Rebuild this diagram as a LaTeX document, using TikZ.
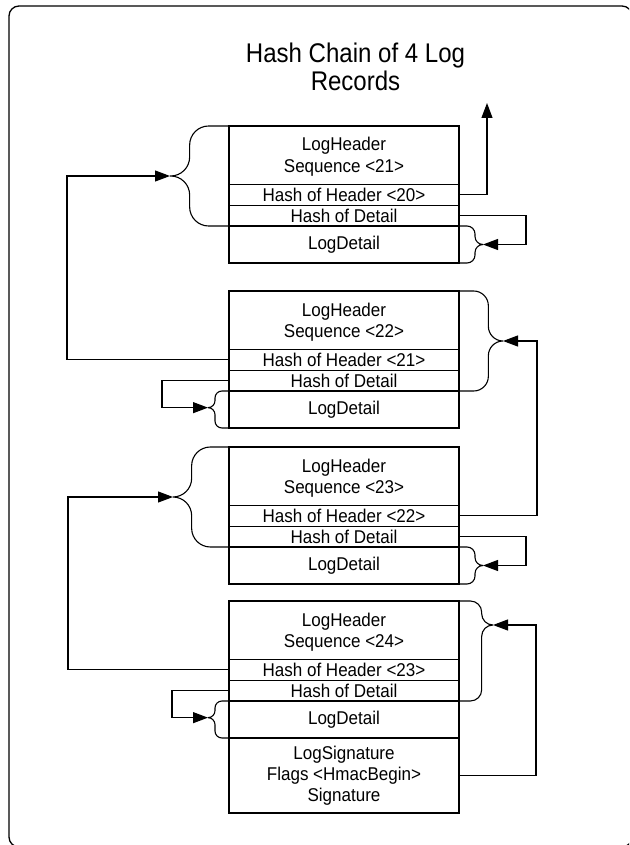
\documentclass[tikz,border=0pt]{standalone}
\usepackage{fontspec}
\setmainfont{Liberation Sans}
\newfontfamily\titlesans[FakeStretch=0.89]{Liberation Sans}
\newfontfamily\rowsans[FakeStretch=0.92]{Liberation Sans}
\usetikzlibrary{positioning,calc,arrows.meta}

\newcommand\curlybrace[4]{%
  \draw[brc,rounded corners=#4] (#1) -- ($(#1)!.667!(#1 -| #2)$) |- (#2)
    (#2) -| ($(#3)!.667!(#3 -| #2)$) -- (#3);}

\begin{document}
\begin{tikzpicture}[x=1pt,y=-1pt,
  row/.style={draw,line width=0.9pt,minimum width=230pt,inner sep=0pt,outer sep=0pt,
    align=center,anchor=north,font=\rowsans\fontsize{18.5}{21}\selectfont},
  hdrow/.style={row,minimum height=58pt,text height=38pt,text depth=4pt},
  hashrow/.style={row,minimum height=21pt},
  detrow/.style={row,minimum height=37pt},
  sigrow/.style={row,minimum height=75pt,text height=56pt,text depth=4pt},
  recbox/.style={line width=2.8pt},
  brc/.style={line width=1.1pt},
  arr/.style={line width=1.1pt,-{Triangle[length=15pt,width=11pt]}}]
  \useasboundingbox (0,0) rectangle (629,845);
  \clip (0,0) rectangle (629,845);
  \draw[line width=1.3pt,rounded corners=10pt] (9,6) rectangle (632,847);

  \node[font=\titlesans\fontsize{27}{27.5}\selectfont,align=center] (title) at (355.5,66.7)
    {Hash Chain of 4 Log\\Records};

  \node[hdrow] (hd1) at (344,126) {LogHeader\\Sequence <21>};
  \node[hashrow,below=0pt of hd1] (hh1) {Hash of Header <20>};
  \node[hashrow,below=0pt of hh1] (hx1) {Hash of Detail};
  \node[detrow,below=0pt of hx1] (d1) {LogDetail};
  \draw[recbox] (hd1.north west) rectangle (d1.south east);
  \draw[recbox] (d1.north west) -- (d1.north east);

  \node[hdrow] (hd2) at (344,291) {LogHeader\\Sequence <22>};
  \node[hashrow,below=0pt of hd2] (hh2) {Hash of Header <21>};
  \node[hashrow,below=0pt of hh2] (hx2) {Hash of Detail};
  \node[detrow,below=0pt of hx2] (d2) {LogDetail};
  \draw[recbox] (hd2.north west) rectangle (d2.south east);
  \draw[recbox] (d2.north west) -- (d2.north east);

  \node[hdrow] (hd3) at (344,447) {LogHeader\\Sequence <23>};
  \node[hashrow,below=0pt of hd3] (hh3) {Hash of Header <22>};
  \node[hashrow,below=0pt of hh3] (hx3) {Hash of Detail};
  \node[detrow,below=0pt of hx3] (d3) {LogDetail};
  \draw[recbox] (hd3.north west) rectangle (d3.south east);
  \draw[recbox] (d3.north west) -- (d3.north east);

  \node[hdrow] (hd4) at (344,601) {LogHeader\\Sequence <24>};
  \node[hashrow,below=0pt of hd4] (hh4) {Hash of Header <23>};
  \node[hashrow,below=0pt of hh4] (hx4) {Hash of Detail};
  \node[detrow,below=0pt of hx4] (d4) {LogDetail};
  \node[sigrow,below=0pt of d4] (sg4) {LogSignature\\Flags <HmacBegin>\\Signature};
  \draw[recbox] (hd4.north west) rectangle (sg4.south east);
  \draw[recbox] (d4.north west) -- (d4.north east);
  \draw[recbox] (sg4.north west) -- (sg4.north east);

  \coordinate (bt1h) at ($(hd1.north west)!.5!(hx1.south west)+(-59,0)$);
  \coordinate (bt1d) at ($(d1.north east)!.5!(d1.south east)+(24,0)$);
  \coordinate (bt2h) at ($(hd2.north east)!.5!(hx2.south east)+(44,0)$);
  \coordinate (bt2d) at ($(d2.north west)!.45!(d2.south west)+(-21,0)$);
  \coordinate (bt3h) at ($(hd3.north west)!.5!(hx3.south west)+(-56,0)$);
  \coordinate (bt3d) at ($(d3.north east)!.5!(d3.south east)+(24,0)$);
  \coordinate (bt4h) at ($(hd4.north east)!.24!(hx4.south east)+(34,0)$);
  \coordinate (bt4d) at ($(d4.north west)!.45!(d4.south west)+(-21,0)$);
  \coordinate (up) at (487,103);

  \curlybrace{hd1.north west}{bt1h}{hx1.south west}{19pt}
  \curlybrace{d1.north east}{bt1d}{d1.south east}{8pt}
  \curlybrace{hd2.north east}{bt2h}{hx2.south east}{14.7pt}
  \curlybrace{d2.north west}{bt2d}{d2.south west}{7pt}
  \curlybrace{hd3.north west}{bt3h}{hx3.south west}{18.7pt}
  \curlybrace{d3.north east}{bt3d}{d3.south east}{8pt}
  \curlybrace{hd4.north east}{bt4h}{hx4.south east}{11.3pt}
  \curlybrace{d4.north west}{bt4d}{d4.south west}{7pt}

  \draw[arr] (hh1.east) -| (up);
  \draw[arr] (hx1.east) -- ++(67,0) |- (bt1d);
  \draw[arr] (hh2.west) -- ++(-162,0) |- (bt1h);
  \draw[arr] (hx2.west) -- ++(-67,0) |- (bt2d);
  \draw[arr] (hh3.east) -- ++(78,0) |- (bt2h);
  \draw[arr] (hx3.east) -- ++(67,0) |- (bt3d);
  \draw[arr] (hh4.west) -- ++(-161,0) |- (bt3h);
  \draw[arr] (hx4.west) -- ++(-57,0) |- (bt4d);
  \draw[arr] (sg4.east) -- ++(77,0) |- (bt4h);
\end{tikzpicture}
\end{document}
